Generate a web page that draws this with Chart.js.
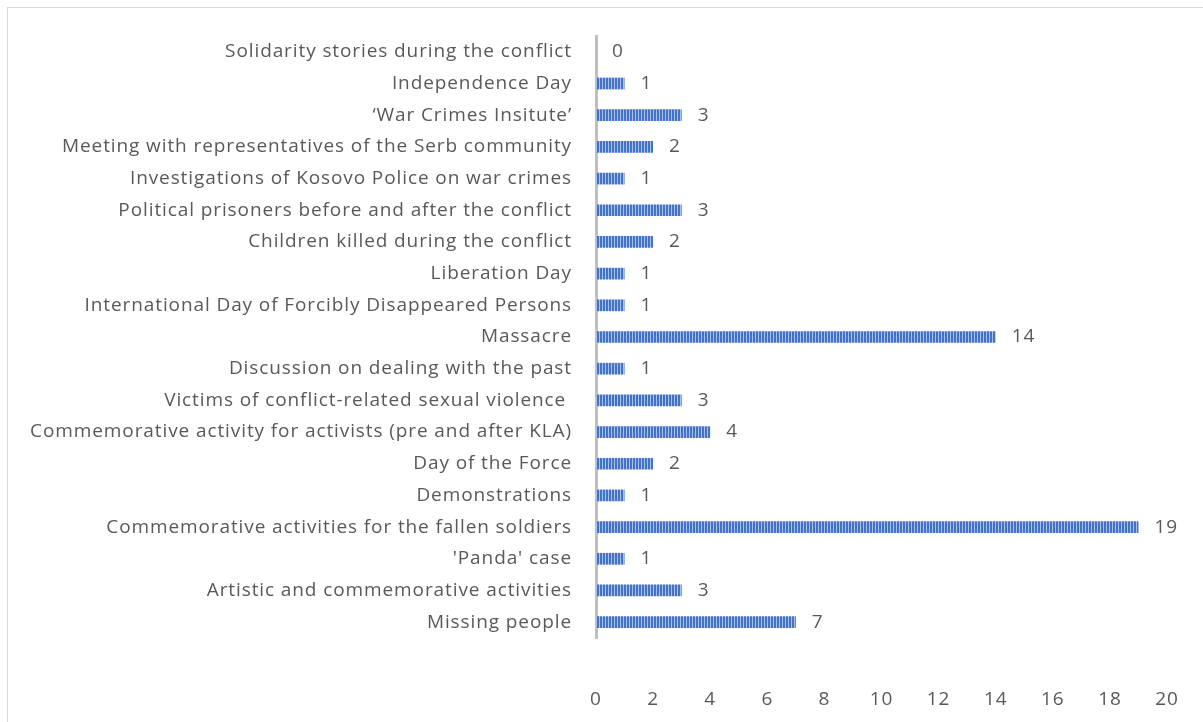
<!DOCTYPE html>
<html>
<head>
<meta charset="utf-8">
<script src="https://cdn.jsdelivr.net/npm/chart.js@4.4.1/dist/chart.umd.min.js"></script>
<style>
  html, body { margin: 0; padding: 0; background: #fff; overflow: hidden; }
  #wrap { position: relative; width: 1203px; height: 722px; }
  #frame { position: absolute; left: 7px; top: 7px; width: 1300px; height: 800px;
           border-left: 1px solid #d9d9d9; border-top: 1px solid #d9d9d9; }
  canvas { position: absolute; left: 0; top: 0; }
</style>
</head>
<body>
<div id="wrap">
  <div id="frame"></div>
  <canvas id="dataChart" width="1203" height="722"></canvas>
</div>
<script>
const categories = [
    "Solidarity stories during the conflict",
    "Independence Day",
    "\u2018War Crimes Insitute\u2019",
    "Meeting with representatives of the Serb community",
    "Investigations of Kosovo Police on war crimes",
    "Political prisoners before and after the conflict",
    "Children killed during the conflict",
    "Liberation Day",
    "International Day of Forcibly Disappeared Persons",
    "Massacre",
    "Discussion on dealing with the past",
    "Victims of conflict-related sexual violence ",
    "Commemorative activity for activists (pre and after KLA)",
    "Day of the Force",
    "Demonstrations",
    "Commemorative activities for the fallen soldiers",
    "'Panda' case",
    "Artistic and commemorative activities",
    "Missing people"
];
const counts = [0, 1, 3, 2, 1, 3, 2, 1, 1, 14, 1, 3, 4, 2, 1, 19, 1, 3, 7];
const xTicks = [0, 2, 4, 6, 8, 10, 12, 14, 16, 18, 20];

const FONT = "'Open Sans', sans-serif";
const TEXT = "#595959";
const SPACING = "0.9px";

// striped fill like the original picture
const makeStripes = () => {
    const c = document.createElement("canvas");
    c.width = 3;
    c.height = 4;
    const ctx = c.getContext("2d");
    ctx.fillStyle = "#4472C4";
    ctx.fillRect(0, 0, 2, 4);
    ctx.fillStyle = "#A9C0E8";
    ctx.fillRect(2, 0, 1, 4);
    return ctx.createPattern(c, "repeat");
};

// the source text is wider than Open Sans, so open the letters up a bit
const letterSpacing = {
    id: "letterSpacing",
    beforeUpdate(chart) { chart.ctx.letterSpacing = SPACING; },
    beforeDraw(chart) { chart.ctx.letterSpacing = SPACING; }
};

const valueLabels = {
    id: "valueLabels",
    afterDatasetsDraw(chart) {
        const ctx = chart.ctx;
        const meta = chart.getDatasetMeta(0);
        ctx.save();
        ctx.letterSpacing = SPACING;
        ctx.font = "19px " + FONT;
        ctx.fillStyle = TEXT;
        ctx.textAlign = "left";
        ctx.textBaseline = "middle";
        meta.data.forEach((bar, i) => {
            ctx.fillText(String(counts[i]), bar.x + 16, bar.y);
        });
        ctx.restore();
    }
};

const chart = new Chart(document.getElementById("dataChart"), {
    type: "bar",
    data: {
        labels: categories,
        datasets: [{
            data: counts,
            backgroundColor: makeStripes(),
            borderWidth: 0,
            barPercentage: 0.37,
            categoryPercentage: 1
        }]
    },
    options: {
        indexAxis: "y",
        responsive: false,
        animation: false,
        layout: { padding: { top: 36, right: 36, left: 0, bottom: 0 } },
        plugins: { legend: { display: false }, tooltip: { enabled: false } },
        scales: {
            x: {
                min: 0,
                max: 20,
                afterBuildTicks: (axis) => { axis.ticks = xTicks.map(v => ({ value: v })); },
                afterFit: (axis) => {
                    axis.height = 84;
                    axis.paddingLeft = 0;
                    axis.paddingRight = 0;
                },
                grid: { display: false, drawTicks: false },
                border: { display: false },
                ticks: { color: TEXT, padding: 50, font: { family: FONT, size: 19 } }
            },
            y: {
                afterFit: (axis) => {
                    axis.width = 596;
                    axis.paddingTop = 0;
                    axis.paddingBottom = 0;
                },
                grid: { display: false, drawTicks: false },
                border: { display: true, color: "#BFBFBF", width: 3 },
                ticks: { color: TEXT, padding: 24, autoSkip: false, font: { family: FONT, size: 19 } }
            }
        }
    },
    plugins: [letterSpacing, valueLabels]
});
</script>
</body>
</html>
